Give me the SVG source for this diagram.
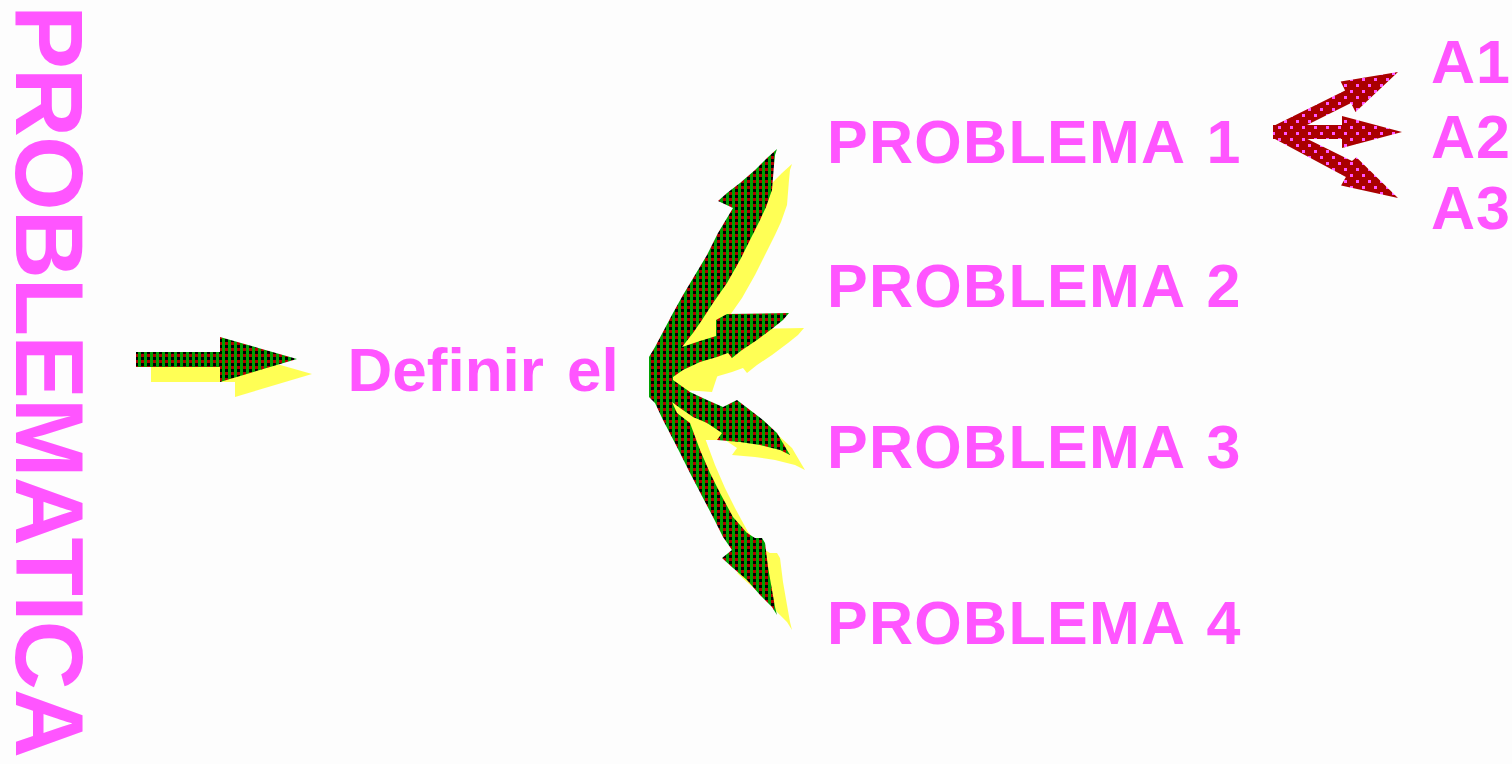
<svg xmlns="http://www.w3.org/2000/svg" width="1512" height="764" viewBox="0 0 1512 764">
<defs>
<pattern id="chk" width="6" height="6" patternUnits="userSpaceOnUse">
<rect width="6" height="6" fill="#B00000"/>
<rect x="0" y="0" width="3" height="6" fill="#00A000"/>
<rect x="3" y="3" width="3" height="3" fill="#000000"/>
</pattern>
<pattern id="dots" width="12" height="12" patternUnits="userSpaceOnUse">
<rect width="12" height="12" fill="#AA0000"/>
<rect x="0" y="0" width="3" height="3" fill="#FF55FF"/>
<rect x="6" y="6" width="3" height="3" fill="#FF55FF"/>
</pattern>
</defs>
<style>
.t{font-family:"Liberation Sans",Arial,sans-serif;font-weight:bold;fill:#FF55FF}
.p{font-size:61px;letter-spacing:1.3px;word-spacing:4px}
.a{font-size:61px;letter-spacing:1px}
.sh{fill:#FFFF55}
.ck{fill:url(#chk)}
.rd{fill:url(#dots)}
</style>
<rect width="1512" height="764" fill="#FDFDFD"/>

<g id="connectors">
<g id="arrow-main">
<polygon class="sh" transform="translate(15,15)" points="136,352 220,352 220,337 297,359 220,382 220,367 136,367"/>
<polygon class="ck" points="136,352 220,352 220,337 297,359 220,382 220,367 136,367"/>
</g>
<g id="arrow-fork">
<polygon id="fork-shadow" class="sh" transform="translate(15,15)" points="649,357 655,347 673,313 683,295 695,275 707,255 718,233 727,218 733,208 718,201 727,193 740,183 755,170 767,158 777,149 775,155 774,165 772,190 766,207 760,220 750,240 740,260 727,283 713,303 702,320 693,333 682,347 700,341 713,337 716,336 716,320 727,314 789,313 783,320 773,328 757,340 742,350 732,358 728,353 717,357 700,362 683,370 673,377 673,380 690,392 707,400 723,407 737,400 750,410 763,420 777,433 787,450 790,455 780,450 760,445 740,442 717,440 722,433 707,423 693,417 680,408 672,402 677,413 690,423 700,450 710,473 720,493 733,517 747,533 755,538 762,538 765,543 768,567 772,590 775,607 777,615 772,607 760,595 747,580 733,568 722,558 732,550 723,537 713,517 703,498 690,473 677,447 663,420 655,403 649,397"/>
<polygon class="sh" points="676,350 700,330 716,322 716,345 700,352"/>
<polygon class="sh" points="672,379 700,366 722,362 712,392 685,390"/>
<polygon class="sh" points="672,403 695,412 720,428 722,440 700,440 688,425"/>
<polygon id="fork" class="ck" points="649,357 655,347 673,313 683,295 695,275 707,255 718,233 727,218 733,208 718,201 727,193 740,183 755,170 767,158 777,149 775,155 774,165 772,190 766,207 760,220 750,240 740,260 727,283 713,303 702,320 693,333 682,347 700,341 713,337 716,336 716,320 727,314 789,313 783,320 773,328 757,340 742,350 732,358 728,353 717,357 700,362 683,370 673,377 673,380 690,392 707,400 723,407 737,400 750,410 763,420 777,433 787,450 790,455 780,450 760,445 740,442 717,440 722,433 707,423 693,417 680,408 672,402 677,413 690,423 700,450 710,473 720,493 733,517 747,533 755,538 762,538 765,543 768,567 772,590 775,607 777,615 772,607 760,595 747,580 733,568 722,558 732,550 723,537 713,517 703,498 690,473 677,447 663,420 655,403 649,397"/>
</g>
<g id="arrow-red">
<polygon class="rd" points="1273.4,126 1345.1,90.5 1340.7,81.5 1398,72 1355.5,112 1351,103 1279,139"/>
<polygon class="rd" points="1273,125 1342,125 1342,116 1402,132 1342,148 1342,139 1273,139"/>
<polygon class="rd" points="1279,125 1352,161 1356.4,157.3 1398,198 1341.1,185.4 1345.9,177 1273.1,138"/>
</g>
</g>

<g id="problematica">
<text class="t" transform="translate(16,5) rotate(90)" font-size="96" letter-spacing="-1.2">PROBLEMATICA</text>
</g>
<g id="definir">
<text class="t" x="347.5" y="391" font-size="62" word-spacing="6">Definir el</text>
</g>
<g id="problema1"><text class="t p" x="827" y="163">PROBLEMA 1</text></g>
<g id="problema2"><text class="t p" x="827" y="307">PROBLEMA 2</text></g>
<g id="problema3"><text class="t p" x="827" y="468">PROBLEMA 3</text></g>
<g id="problema4"><text class="t p" x="827" y="644">PROBLEMA 4</text></g>
<g id="a1"><text class="t a" x="1431" y="83">A1</text></g>
<g id="a2"><text class="t a" x="1431" y="158">A2</text></g>
<g id="a3"><text class="t a" x="1431" y="229">A3</text></g>
</svg>
